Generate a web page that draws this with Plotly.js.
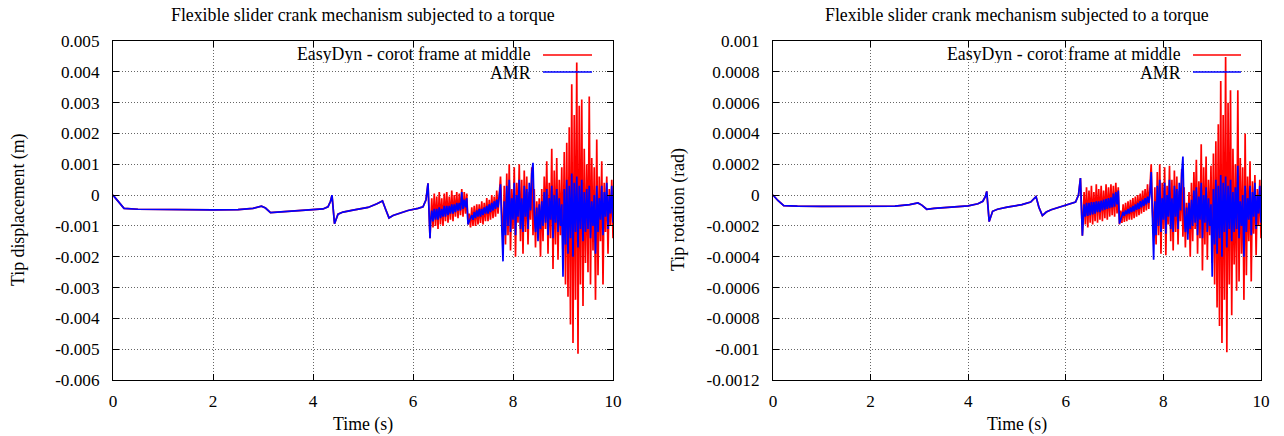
<!DOCTYPE html>
<html>
<head>
<meta charset="utf-8">
<script src="https://cdn.plot.ly/plotly-3.0.1.min.js"></script>
<style>html,body{margin:0;padding:0;background:#fff;}#chart{width:1284px;height:436px;}</style>
</head>
<body>
<div id="chart"></div>
<script>
// ---------------- DATA ----------------
// time (s): smooth start, then sampled oscillatory part
const timeSmooth = [0,0.1,0.22,0.5,1.0,1.5,2.0,2.5,2.8,2.97,
  3.05,3.15,3.3,3.6,4.0,4.2,4.3,4.35,4.38,4.43,
  4.5,4.6,4.8,5.1,5.28,5.39,5.45,5.52,5.6,5.7,5.9,6.1,
  6.2,6.26,6.3,6.34];
const timeOsc = [6.35,6.375,6.4,6.425,6.45,6.475,6.5,6.525,6.55,6.575,
  6.6,6.625,6.65,6.675,6.7,6.725,6.75,6.775,6.8,6.825,
  6.85,6.875,6.9,6.925,6.95,6.975,7.0,7.025,7.05,7.075,
  7.1,7.125,7.15,7.175,7.2,7.225,7.25,7.275,7.3,7.325,
  7.35,7.375,7.4,7.425,7.45,7.475,7.5,7.525,7.55,7.575,
  7.6,7.625,7.65,7.675,7.7,7.725,7.75,7.775,7.8,7.825,
  7.85,7.875,7.9,7.925,7.95,7.975,8.0,8.025,8.05,8.075,
  8.1,8.125,8.15,8.175,8.2,8.225,8.25,8.275,8.3,8.325,
  8.35,8.375,8.4,8.425,8.45,8.475,8.5,8.525,8.55,8.575,
  8.6,8.625,8.65,8.675,8.7,8.725,8.75,8.775,8.8,8.825,
  8.85,8.875,8.9,8.925,8.95,8.975,9.0,9.025,9.05,9.075,
  9.1,9.125,9.15,9.175,9.2,9.225,9.25,9.275,9.3,9.325,
  9.35,9.375,9.4,9.425,9.45,9.475,9.5,9.525,9.55,9.575,
  9.6,9.625,9.65,9.675,9.7,9.725,9.75,9.775,9.8,9.825,
  9.85,9.875,9.9,9.925,9.95,9.975,10.0];

// Tip displacement, in units of 1e-3 m (both curves coincide in the smooth part)
const dispSmooth_mm = [0,-0.2,-0.43,-0.46,-0.47,-0.48,-0.48,-0.47,-0.43,-0.36,
  -0.42,-0.57,-0.55,-0.51,-0.48,-0.45,-0.38,-0.2,0.0,-0.93,
  -0.62,-0.55,-0.49,-0.4,-0.28,-0.19,-0.45,-0.74,-0.66,-0.6,-0.5,-0.43,
  -0.38,-0.15,0.38,-1.4];
const dispEasyDynOsc_mm = [-1.1,-0.1,-1.05,0.05,-1.0,-0.05,-1.1,0.1,-0.95,-0.1,
  -1.0,0.05,-0.85,0.1,-0.9,-0.05,-0.8,0.15,-0.85,0.0,
  -0.7,0.1,-0.75,0.05,-0.65,0.2,-0.7,0.1,-0.6,0.05,
  -0.95,-0.6,-1.05,-0.4,-1.0,-0.35,-1.0,-0.3,-0.95,-0.3,
  -0.9,-0.2,-0.95,-0.25,-0.85,-0.1,-0.85,-0.15,-0.8,0.0,
  -0.75,-0.05,-0.7,0.15,-0.6,0.1,0.6,-0.6,-1.5,0.3,
  -1.6,0.7,-1.3,1.0,-1.8,0.2,-1.1,0.9,-2.0,0.4,
  -0.9,1.0,-1.5,0.5,-1.9,0.8,-1.2,0.6,-1.6,0.1,
  -0.8,0.9,-1.3,0.2,-1.7,-0.2,-1.2,-0.1,-2.0,0.2,
  -1.5,0.6,-1.1,1.1,-1.9,0.4,-1.4,1.5,-2.4,0.8,
  -1.6,1.2,-2.1,0.5,-1.3,0.9,-2.2,1.4,-2.9,1.7,
  -3.3,2.2,-4.2,3.6,-4.8,2.6,-3.4,4.3,-5.15,2.9,
  -2.9,3.1,-3.6,1.5,-2.2,1.0,-2.5,3.2,-2.9,1.2,
  -1.8,0.9,-3.4,1.8,-2.6,0.6,-1.5,1.1,-2.9,0.4,
  -1.2,0.6,-1.9,0.2,-1.0,0.5,-1.4];
const dispAMROsc_mm = [-0.9,-0.5,-0.85,-0.45,-0.8,-0.45,-0.8,-0.4,-0.75,-0.45,
  -0.7,-0.35,-0.7,-0.35,-0.65,-0.35,-0.6,-0.3,-0.6,-0.3,
  -0.55,-0.25,-0.5,-0.25,-0.5,0.1,-0.45,-0.15,-0.4,-0.1,
  -0.95,-0.85,-0.75,-0.65,-0.8,-0.55,-0.75,-0.5,-0.7,-0.45,
  -0.7,-0.45,-0.65,-0.4,-0.6,-0.35,-0.6,-0.3,-0.55,-0.25,
  -0.5,-0.2,-0.45,-0.15,-0.4,-0.1,0.35,-1.0,-2.15,-0.2,
  -1.3,0.3,-1.0,0.5,-1.2,-0.1,-0.8,0.4,-1.3,0.0,
  -0.7,0.5,-1.1,-0.1,-1.2,0.3,-0.7,0.2,-1.1,0.4,
  -0.5,0.7,1.05,-0.6,-1.2,-0.4,-1.5,-0.3,-1.1,-0.2,
  -1.0,0.1,-0.9,0.2,-1.3,-0.1,-0.8,0.3,-1.4,0.0,
  -0.9,0.2,-1.2,-0.1,-1.0,-0.3,-2.65,0.2,-1.6,0.5,
  -1.9,0.3,-1.4,0.7,-2.0,0.4,-1.2,0.6,-1.7,0.3,
  -1.1,0.5,-1.5,0.1,-1.2,0.2,-1.1,0.3,-1.4,-0.2,
  -1.0,0.0,-1.9,0.3,-1.2,-0.1,-0.8,0.3,-1.3,0.1,
  -0.7,0.4,-1.1,0.0,-0.6,0.3,-0.9];

// Tip rotation, in units of 1e-4 rad
const rotSmooth_e4 = [0,-0.35,-0.68,-0.72,-0.73,-0.74,-0.74,-0.72,-0.62,-0.51,
  -0.65,-0.92,-0.86,-0.78,-0.7,-0.56,-0.4,-0.1,0.24,-1.72,
  -1.05,-0.92,-0.78,-0.62,-0.45,-0.1,-0.8,-1.33,-1.1,-0.95,-0.74,-0.58,
  -0.45,0.0,1.1,-2.63];
const rotEasyDynOsc_e4 = [-2.0,0.2,-1.9,0.5,-2.1,0.3,-1.8,0.6,-1.9,0.2,
  -1.7,0.7,-1.8,0.4,-1.6,0.6,-1.7,0.3,-1.5,0.7,
  -1.6,0.5,-1.4,0.7,-1.3,0.6,-1.4,0.8,-1.2,0.5,
  -1.9,-1.0,-1.8,-0.6,-1.75,-0.5,-1.7,-0.4,-1.6,-0.3,
  -1.6,-0.2,-1.5,-0.1,-1.4,0.0,-1.3,0.1,-1.2,0.3,
  -1.1,0.4,-1.0,0.7,-0.9,0.9,2.0,-1.0,-2.5,0.5,
  -3.2,1.5,-2.6,2.0,-3.8,0.8,-2.2,1.8,-3.9,0.6,
  -1.9,1.9,-3.0,1.0,-3.6,1.6,-2.4,1.2,-3.2,0.3,
  -1.7,1.7,-2.7,0.5,-3.4,-0.5,-2.5,0.2,-4.0,0.8,
  -3.0,1.5,-2.2,2.3,-3.8,0.9,-2.8,3.3,-4.9,1.8,
  -3.2,2.5,-4.2,1.0,-2.6,1.9,-4.4,2.7,-5.8,3.5,
  -7.3,4.6,-8.5,7.4,-9.6,5.2,-6.8,8.96,-10.2,6.0,
  -5.8,6.8,-7.8,3.0,-4.5,2.0,-6.2,6.8,-5.6,2.4,
  -3.8,1.8,-6.8,4.0,-5.2,1.2,-3.0,2.2,-5.6,0.9,
  -2.5,1.3,-3.9,0.4,-2.0,1.0,-2.8];
const rotAMROsc_e4 = [-1.6,-0.6,-1.4,-0.5,-1.35,-0.5,-1.3,-0.45,-1.25,-0.45,
  -1.2,-0.4,-1.1,-0.4,-1.1,-0.35,-1.0,-0.3,-0.95,-0.25,
  -0.9,-0.2,-0.85,-0.15,-0.8,0.1,-0.75,0.2,-0.6,0.3,
  -1.85,-1.6,-1.4,-1.1,-1.35,-1.0,-1.25,-0.9,-1.2,-0.8,
  -1.1,-0.7,-1.05,-0.6,-0.95,-0.5,-0.9,-0.4,-0.8,-0.3,
  -0.7,-0.2,-0.6,-0.1,-0.5,0.1,1.5,-1.5,-4.2,-0.4,
  -2.6,0.6,-2.0,1.0,-2.4,-0.2,-1.6,0.8,-2.5,0.0,
  -1.4,1.0,-2.2,-0.2,-2.4,0.6,-1.4,0.4,-2.2,0.8,
  -1.0,1.4,2.5,-1.2,-2.4,-0.8,-2.9,-0.5,-2.2,-0.3,
  -2.0,0.3,-1.8,0.5,-2.6,-0.1,-1.6,0.8,-2.8,0.0,
  -1.8,0.5,-2.4,-0.2,-2.0,-0.6,-5.3,0.4,-3.2,1.0,
  -3.8,0.6,-2.8,1.3,-4.0,0.8,-2.4,1.2,-3.4,0.6,
  -2.2,1.0,-3.0,0.2,-2.4,0.5,-2.2,1.9,-2.8,-0.4,
  -2.0,0.0,-4.0,0.6,-2.4,-0.2,-1.6,0.6,-2.6,0.2,
  -1.4,0.8,-2.2,0.0,-1.2,0.6,-1.8];

// tick labels
const xTickVals = [0,2,4,6,8,10];
const dispTickVals = [0.005,0.004,0.003,0.002,0.001,0,-0.001,-0.002,-0.003,-0.004,-0.005,-0.006];
const dispTickText = ["0.005","0.004","0.003","0.002","0.001","0","-0.001","-0.002","-0.003","-0.004","-0.005","-0.006"];
const rotTickVals = [0.001,0.0008,0.0006,0.0004,0.0002,0,-0.0002,-0.0004,-0.0006,-0.0008,-0.001,-0.0012];
const rotTickText = ["0.001","0.0008","0.0006","0.0004","0.0002","0","-0.0002","-0.0004","-0.0006","-0.0008","-0.001","-0.0012"];

const seriesNames = ["EasyDyn - corot frame at middle", "AMR"];
const chartTitle = "Flexible slider crank mechanism subjected to a torque";
const xTitle = "Time (s)";
const yTitleLeft = "Tip displacement (m)";
const yTitleRight = "Tip rotation (rad)";

// ---------------- BUILD ----------------
const MM = 1e-3, E4 = 1e-4;
const time = timeSmooth.concat(timeOsc);
const W = 1284, H = 436;
const px = x => x / W;
const py = y => 1 - y / H;
const RED = '#ff0000', BLUE = '#0000ff';
const FONT = 'Liberation Serif, Times New Roman, serif';
const TXT = 17.8;

const traces = [
  {x: time, y: dispSmooth_mm.concat(dispEasyDynOsc_mm).map(v => v * MM), xaxis: 'x', yaxis: 'y',
   mode: 'lines', line: {color: RED, width: 1.7}, name: seriesNames[0], showlegend: false},
  {x: time, y: dispSmooth_mm.concat(dispAMROsc_mm).map(v => v * MM), xaxis: 'x', yaxis: 'y',
   mode: 'lines', line: {color: BLUE, width: 1.7}, name: seriesNames[1], showlegend: false},
  {x: time, y: rotSmooth_e4.concat(rotEasyDynOsc_e4).map(v => v * E4), xaxis: 'x2', yaxis: 'y2',
   mode: 'lines', line: {color: RED, width: 1.7}, name: seriesNames[0], showlegend: false},
  {x: time, y: rotSmooth_e4.concat(rotAMROsc_e4).map(v => v * E4), xaxis: 'x2', yaxis: 'y2',
   mode: 'lines', line: {color: BLUE, width: 1.7}, name: seriesNames[1], showlegend: false}
];

const tickFont = {family: FONT, size: 17.2, color: '#000'};
const common = {
  showline: true, linecolor: '#000', linewidth: 1, mirror: 'allticks',
  ticks: 'inside', ticklen: 6, tickcolor: '#000', tickwidth: 1,
  showgrid: true, gridcolor: '#666', griddash: '1px,2px', gridwidth: 1,
  zeroline: false, tickfont: tickFont, fixedrange: true
};
const xCommon = Object.assign({}, common, {range: [0, 10], tickvals: xTickVals, ticklabelstandoff: 5});

const af = {family: FONT, size: TXT, color: '#000'};
function note(text, x, y, xanchor, angle, extra) {
  return Object.assign({text: text, xref: 'paper', yref: 'paper', x: px(x), y: py(y), xanchor: xanchor, yanchor: 'middle',
          textangle: angle || 0, showarrow: false, font: af}, extra || {});
}
const legendBox = {height: 18, borderpad: 0, valign: 'middle'};

const layout = {
  width: W, height: H,
  margin: {l: 0, r: 0, t: 0, b: 0},
  paper_bgcolor: '#fff', plot_bgcolor: '#fff',
  showlegend: false,
  font: {family: FONT, size: TXT, color: '#000'},
  xaxis: Object.assign({}, xCommon, {domain: [px(113), px(613)], anchor: 'y'}),
  yaxis: Object.assign({}, common, {domain: [py(380), py(41)], anchor: 'x', range: [-0.006, 0.005],
    tickvals: dispTickVals, ticktext: dispTickText, ticklabelstandoff: 9}),
  xaxis2: Object.assign({}, xCommon, {domain: [px(773), px(1261)], anchor: 'y2'}),
  yaxis2: Object.assign({}, common, {domain: [py(380), py(41)], anchor: 'x2', range: [-0.0012, 0.001],
    tickvals: rotTickVals, ticktext: rotTickText, ticklabelstandoff: 9}),
  shapes: [
    // opaque legend boxes (hide grid, under the curves)
    {type: 'rect', xref: 'paper', yref: 'paper', x0: px(203), x1: px(600), y0: py(83), y1: py(42),
     fillcolor: '#fff', line: {width: 0}, layer: 'between'},
    {type: 'rect', xref: 'paper', yref: 'paper', x0: px(853), x1: px(1250), y0: py(83), y1: py(42),
     fillcolor: '#fff', line: {width: 0}, layer: 'between'},
    // legend sample lines
    {type: 'line', xref: 'paper', yref: 'paper', x0: px(543), x1: px(592), y0: py(55), y1: py(55), line: {color: RED, width: 1.5}},
    {type: 'line', xref: 'paper', yref: 'paper', x0: px(543), x1: px(592), y0: py(72), y1: py(72), line: {color: BLUE, width: 1.5}},
    {type: 'line', xref: 'paper', yref: 'paper', x0: px(1193), x1: px(1241), y0: py(55), y1: py(55), line: {color: RED, width: 1.5}},
    {type: 'line', xref: 'paper', yref: 'paper', x0: px(1193), x1: px(1241), y0: py(72), y1: py(72), line: {color: BLUE, width: 1.5}}
  ],
  annotations: [
    note(chartTitle, 363, 15, 'center'),
    note(chartTitle, 1017, 15, 'center'),
    note(xTitle, 363, 424, 'center'),
    note(xTitle, 1017, 424, 'center'),
    note(yTitleLeft, 18, 210, 'center', -90),
    note(yTitleRight, 678, 210, 'center', -90),
    note(seriesNames[0], 532, 54.2, 'right', 0, legendBox),
    note(seriesNames[1], 532, 72.8, 'right', 0, legendBox),
    note(seriesNames[0], 1182, 54.2, 'right', 0, legendBox),
    note(seriesNames[1], 1182, 72.8, 'right', 0, legendBox)
  ]
};

Plotly.newPlot('chart', traces, layout, {staticPlot: true, displayModeBar: false});
</script>
</body>
</html>
